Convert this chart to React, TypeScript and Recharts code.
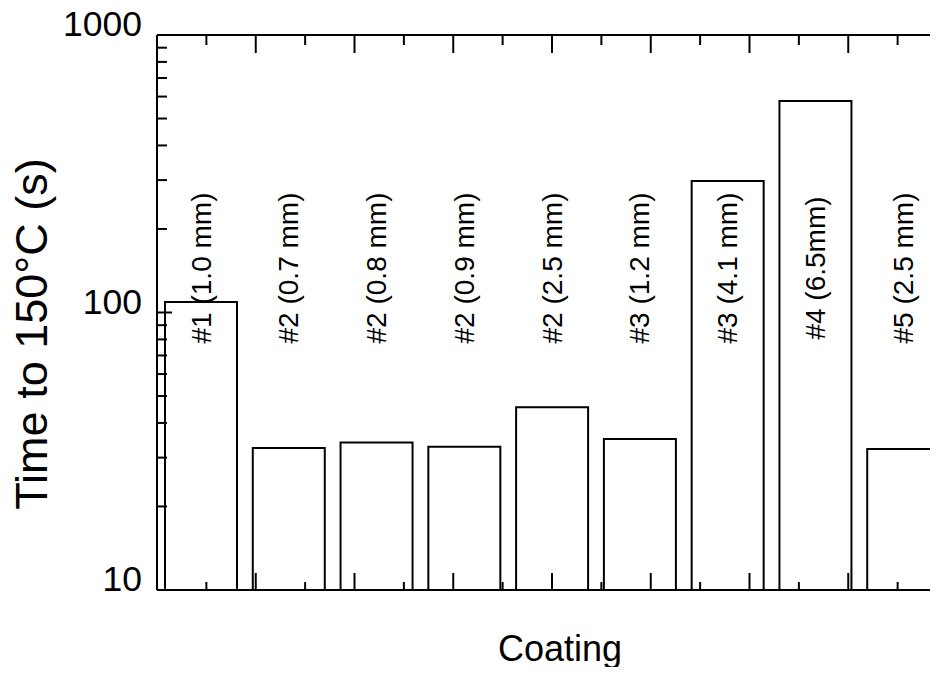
import React from 'react';
import { BarChart, Bar, XAxis, YAxis, LabelList, Customized } from 'recharts';

const categories = ['#1 (1.0 mm)', '#2 (0.7 mm)', '#2 (0.8 mm)', '#2 (0.9 mm)', '#2 (2.5 mm)', '#3 (1.2 mm)', '#3 (4.1 mm)', '#4 (6.5mm)', '#5 (2.5 mm)'];
const timeValues = [109, 32.5, 34, 32.8, 45.6, 35, 298, 578, 32.2];
const yTicks = [10, 20, 30, 40, 50, 60, 70, 80, 90, 100, 200, 300, 400, 500, 600, 700, 800, 900, 1000];
const yMajor = [10, 100, 1000];
const xTicks = [0, 0.5, 1, 1.5, 2, 2.5, 3, 3.5, 4, 4.5, 5, 5.5, 6, 6.5, 7, 7.5, 8, 8.5, 9];

const data = categories.map((name, i) => ({ name, value: timeValues[i] }));

const FONT = '"Liberation Sans", Arial, Helvetica, sans-serif';

const LeftTick = (props: any) => {
  const { x, y, payload } = props;
  const major = yMajor.includes(payload.value);
  return (
    <g>
      <line x1={x} y1={y} x2={x + (major ? 15 : 10)} y2={y} stroke="#000" strokeWidth={2} />
      {major && (
        <text x={x - 15} y={y + 1} textAnchor="end" fontSize={35.5} fontFamily={FONT} fill="#000">
          {payload.value}
        </text>
      )}
    </g>
  );
};

const RightTick = (props: any) => {
  const { x, y, payload } = props;
  const major = yMajor.includes(payload.value);
  return <line x1={x} y1={y} x2={x - (major ? 15 : 10)} y2={y} stroke="#000" strokeWidth={2} strokeDasharray="2 3" />;
};

const TopTick = (props: any) => {
  const { x, y, payload } = props;
  const boundary = Number.isInteger(payload.value);
  return <line x1={x} y1={y} x2={x} y2={y + (boundary ? 18 : 10)} stroke="#000" strokeWidth={2} />;
};

const BottomTick = (props: any) => {
  const { x, y, payload } = props;
  const boundary = Number.isInteger(payload.value);
  return <line x1={x} y1={y} x2={x} y2={y - (boundary ? 17 : 8)} stroke="#000" strokeWidth={2} />;
};

const BarLabel = (props: any) => {
  const { x, width, value } = props;
  const cx = x + width / 2;
  return (
    <text
      transform={`translate(${cx}, 268) rotate(-90)`}
      textAnchor="middle"
      dominantBaseline="central"
      fontSize={28}
      fontFamily={FONT}
      fill="#000"
    >
      {value}
    </text>
  );
};

const Titles = () => (
  <g>
    <text
      transform="translate(31, 334) rotate(-90)"
      textAnchor="middle"
      dominantBaseline="central"
      fontSize={45}
      fontFamily={FONT}
      fill="#000"
    >
      Time to 150°C  (s)
    </text>
    <text x={560} y={661} textAnchor="middle" fontSize={36} fontFamily={FONT} fill="#000">
      Coating
    </text>
  </g>
);

export default function App() {
  return (
    <div style={{ margin: -8, width: 938, height: 675, overflow: 'hidden', background: '#fff' }}>
      <BarChart
        width={970}
        height={680}
        data={data}
        margin={{ top: 34, right: 22, bottom: 89, left: 156 }}
      >
        <XAxis xAxisId="cat" dataKey="name" hide />
        <XAxis
          xAxisId="bottom"
          type="number"
          domain={[0, 9]}
          ticks={xTicks}
          interval={0}
          height={1}
          tickSize={0}
          tickMargin={0}
          tickLine={false}
          tick={<BottomTick />}
          axisLine={{ stroke: '#000', strokeWidth: 2 }}
        />
        <XAxis
          xAxisId="top"
          orientation="top"
          type="number"
          domain={[0, 9]}
          ticks={xTicks}
          interval={0}
          height={1}
          tickSize={0}
          tickMargin={0}
          tickLine={false}
          tick={<TopTick />}
          axisLine={{ stroke: '#000', strokeWidth: 2 }}
        />
        <YAxis
          yAxisId="left"
          scale="log"
          type="number"
          domain={[10, 1000]}
          ticks={yTicks}
          interval={0}
          allowDataOverflow
          width={1}
          tickSize={0}
          tickMargin={0}
          tickLine={false}
          tick={<LeftTick />}
          axisLine={{ stroke: '#000', strokeWidth: 2 }}
        />
        <YAxis
          yAxisId="right"
          orientation="right"
          scale="log"
          type="number"
          domain={[10, 1000]}
          ticks={yTicks}
          interval={0}
          allowDataOverflow
          width={1}
          tickSize={0}
          tickMargin={0}
          tickLine={false}
          tick={<RightTick />}
          axisLine={{ stroke: '#000', strokeWidth: 1, strokeDasharray: '2 4' }}
        />
        <Bar
          xAxisId="cat"
          yAxisId="left"
          dataKey="value"
          barSize={72}
          fill="#fff"
          stroke="#000"
          strokeWidth={2}
          isAnimationActive={false}
        >
          <LabelList dataKey="name" content={<BarLabel />} />
        </Bar>
        <Customized component={Titles} />
      </BarChart>
    </div>
  );
}
